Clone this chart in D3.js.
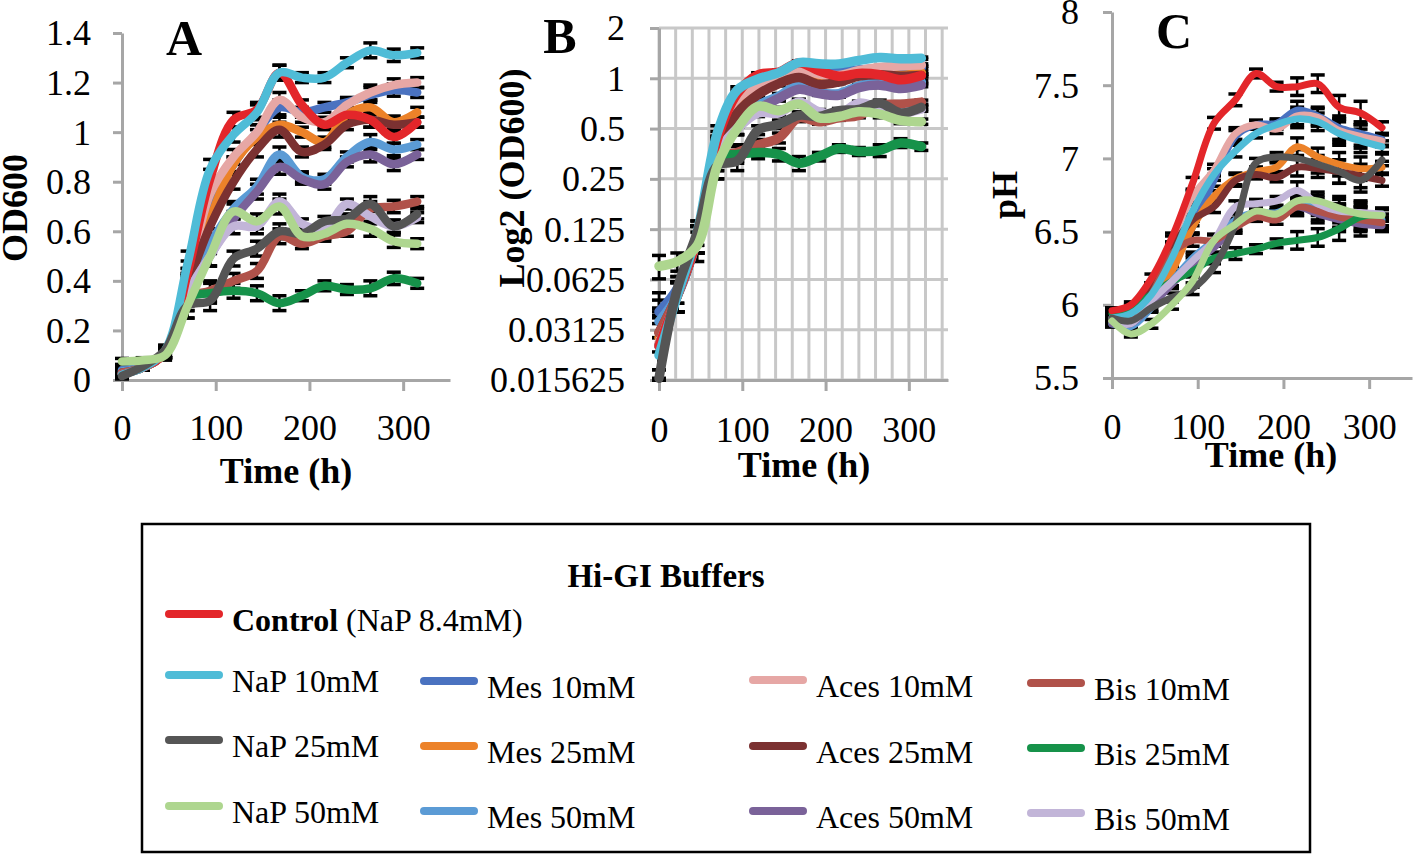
<!DOCTYPE html>
<html><head><meta charset="utf-8">
<script src="https://cdn.jsdelivr.net/npm/d3@7"></script>
<style>
body{margin:0;background:#fff;}
svg{display:block;font-family:"Liberation Serif","Times New Roman",serif;}
</style>
</head><body>
<svg id="chart" width="1418" height="862"></svg>
<script>
// ---------------- DATA ----------------
const times = [0, 22, 46, 70, 94, 119, 144, 168, 192, 216, 240, 265, 290, 315];

const seriesNames = ["Control","NaP 10mM","NaP 25mM","NaP 50mM","Mes 10mM","Mes 25mM","Mes 50mM",
                     "Aces 10mM","Aces 25mM","Aces 50mM","Bis 10mM","Bis 25mM","Bis 50mM"];
const seriesColors = ["#e3262a","#4fbcd7","#555555","#aed68f","#4a72c0","#ec8229","#5b9bd5",
                      "#e6a7a5","#7b3131","#7a6299","#b0524a","#16924a","#c2b5d8"];

// OD600 (panels A and B)
const odControl = [0.025, 0.05, 0.11, 0.43, 0.81, 1.05, 1.09, 1.24, 1.11, 1.03, 1.07, 1.05, 0.98, 1.04];
const odNaP10   = [0.022, 0.05, 0.12, 0.47, 0.85, 0.99, 1.08, 1.24, 1.22, 1.22, 1.28, 1.33, 1.31, 1.32];
const odNaP25   = [0.016, 0.055, 0.12, 0.30, 0.32, 0.49, 0.53, 0.60, 0.59, 0.64, 0.65, 0.71, 0.62, 0.67];
const odNaP50   = [0.075, 0.08, 0.10, 0.30, 0.50, 0.68, 0.64, 0.70, 0.58, 0.59, 0.63, 0.61, 0.56, 0.55];
const odMes10   = [0.040, 0.055, 0.11, 0.40, 0.70, 0.87, 1.00, 1.10, 1.08, 1.10, 1.12, 1.15, 1.17, 1.16];
const odMes25   = [0.028, 0.05, 0.11, 0.38, 0.65, 0.87, 0.98, 1.03, 1.00, 0.96, 1.07, 1.10, 1.04, 1.08];
const odMes50   = [0.035, 0.05, 0.11, 0.37, 0.55, 0.69, 0.78, 0.91, 0.82, 0.81, 0.90, 0.96, 0.93, 0.95];
const odAces10  = [0.026, 0.05, 0.11, 0.40, 0.75, 0.90, 1.00, 1.13, 1.06, 1.04, 1.11, 1.16, 1.19, 1.20];
const odAces25  = [0.030, 0.05, 0.11, 0.38, 0.62, 0.80, 0.93, 1.01, 0.92, 0.95, 1.03, 1.05, 1.03, 1.04];
const odAces50  = [0.025, 0.05, 0.11, 0.35, 0.50, 0.65, 0.76, 0.86, 0.81, 0.79, 0.88, 0.91, 0.87, 0.91];
const odBis10   = [0.030, 0.05, 0.11, 0.33, 0.36, 0.40, 0.44, 0.58, 0.55, 0.58, 0.60, 0.69, 0.70, 0.72];
const odBis25   = [0.025, 0.05, 0.11, 0.33, 0.35, 0.36, 0.35, 0.31, 0.34, 0.38, 0.365, 0.37, 0.41, 0.39];
const odBis50   = [0.025, 0.05, 0.11, 0.35, 0.50, 0.62, 0.62, 0.72, 0.63, 0.61, 0.71, 0.66, 0.62, 0.655];
const odError   = [0.012, 0.01, 0.02, 0.05, 0.04, 0.03, 0.03, 0.03, 0.02, 0.02, 0.02, 0.03, 0.025, 0.02];

// pH (panel C)
const phControl = [5.96, 6.00, 6.18, 6.46, 6.83, 7.24, 7.40, 7.58, 7.49, 7.49, 7.51, 7.35, 7.31, 7.21];
const phNaP10   = [5.91, 5.94, 6.07, 6.32, 6.64, 6.89, 7.05, 7.17, 7.23, 7.27, 7.25, 7.17, 7.12, 7.08];
const phNaP25   = [5.91, 5.89, 5.98, 6.05, 6.11, 6.26, 6.55, 6.97, 7.01, 7.00, 6.96, 6.91, 6.85, 6.99];
const phNaP50   = [5.89, 5.80, 5.87, 6.00, 6.16, 6.44, 6.55, 6.64, 6.62, 6.71, 6.71, 6.66, 6.62, 6.61];
const phMes10   = [5.87, 5.91, 6.05, 6.26, 6.53, 6.85, 7.15, 7.23, 7.24, 7.33, 7.29, 7.21, 7.17, 7.13];
const phMes25   = [5.89, 5.91, 6.03, 6.23, 6.53, 6.74, 6.86, 6.91, 6.94, 7.08, 7.01, 6.96, 6.93, 6.94];
const phMes50   = [5.87, 5.85, 5.98, 6.16, 6.32, 6.44, 6.58, 6.63, 6.63, 6.69, 6.67, 6.61, 6.59, 6.58];
const phAces10  = [5.89, 5.94, 6.12, 6.44, 6.74, 6.92, 7.17, 7.23, 7.20, 7.29, 7.28, 7.19, 7.15, 7.12];
const phAces25  = [5.91, 5.94, 6.12, 6.39, 6.58, 6.67, 6.85, 6.89, 6.87, 6.94, 6.93, 6.91, 6.88, 6.85];
const phAces50  = [5.87, 5.87, 6.00, 6.14, 6.28, 6.39, 6.53, 6.62, 6.62, 6.67, 6.62, 6.58, 6.55, 6.54];
const phBis10   = [5.91, 5.91, 6.07, 6.35, 6.44, 6.44, 6.53, 6.60, 6.58, 6.67, 6.64, 6.60, 6.58, 6.56];
const phBis25   = [5.94, 5.98, 6.07, 6.16, 6.23, 6.32, 6.35, 6.38, 6.42, 6.44, 6.46, 6.52, 6.60, 6.62];
const phBis50   = [5.89, 5.87, 6.03, 6.16, 6.30, 6.44, 6.67, 6.69, 6.71, 6.78, 6.69, 6.64, 6.63, 6.62];
const phError   = [0.02, 0.02, 0.03, 0.03, 0.04, 0.04, 0.04, 0.03, 0.03, 0.06, 0.06, 0.08, 0.08, 0.04];

// Tick values / labels
const xTicks = [0, 100, 200, 300];
const yTicksA = [0, 0.2, 0.4, 0.6, 0.8, 1, 1.2, 1.4];
const yLabelsA = ["0", "0.2", "0.4", "0.6", "0.8", "1", "1.2", "1.4"];
const yTicksB = [0.015625, 0.03125, 0.0625, 0.125, 0.25, 0.5, 1, 2];
const yLabelsB = ["0.015625", "0.03125", "0.0625", "0.125", "0.25", "0.5", "1", "2"];
const yTicksC = [5.5, 6, 6.5, 7, 7.5, 8];
const yLabelsC = ["5.5", "6", "6.5", "7", "7.5", "8"];
const xMinorB = [0,20,40,60,80,100,120,140,160,180,200,220,240,260,280,300,320,340];

const odSeries = [odControl, odNaP10, odNaP25, odNaP50, odMes10, odMes25, odMes50,
                  odAces10, odAces25, odAces50, odBis10, odBis25, odBis50];
const phSeries = [phControl, phNaP10, phNaP25, phNaP50, phMes10, phMes25, phMes50,
                  phAces10, phAces25, phAces50, phBis10, phBis25, phBis50];
// drawing order (bottom -> top), by series index
const drawOrder = [4, 5, 6, 7, 8, 9, 10, 11, 12, 0, 1, 2, 3];

// ---------------- DRAW ----------------
const svg = d3.select("#chart");
const AXIS = "#a6a6a6";
const GRID = "#c8c8c8";

function styleAxis(g, fontSize) {
  g.select(".domain").attr("stroke", AXIS).attr("stroke-width", 3);
  g.selectAll(".tick line").attr("stroke", AXIS).attr("stroke-width", 3);
  g.selectAll(".tick text").attr("fill", "#000").attr("font-size", fontSize)
    .attr("font-family", '"Liberation Serif","Times New Roman",serif');
}

function drawPanel(cfg) {
  const g = svg.append("g");
  const x = cfg.x, y = cfg.y;
  const [x0, x1] = x.range();
  const [yb, yt] = y.range();

  if (cfg.grid) {
    g.append("g").selectAll("line.h").data(cfg.yTicks).join("line")
      .attr("x1", x0).attr("x2", x1).attr("y1", d => y(d)).attr("y2", d => y(d))
      .attr("stroke", GRID).attr("stroke-width", 3);
    g.append("g").selectAll("line.v").data(cfg.grid).join("line")
      .attr("x1", d => x(d)).attr("x2", d => x(d)).attr("y1", yt).attr("y2", yb)
      .attr("stroke", GRID).attr("stroke-width", 3);
  }

  // y axis
  const ya = g.append("g").attr("transform", `translate(${x0},0)`)
    .call(d3.axisLeft(y).tickValues(cfg.yTicks).tickFormat((d, i) => cfg.yLabels[i])
      .tickSize(9).tickPadding(cfg.yPad).tickSizeOuter(0));
  styleAxis(ya, 36);
  ya.selectAll(".tick text").attr("dy", "0.33em");

  // x axis
  const xa = g.append("g").attr("transform", `translate(0,${yb})`)
    .call(d3.axisBottom(x).tickValues(xTicks).tickFormat(d3.format("d"))
      .tickSize(11).tickSizeOuter(0));
  styleAxis(xa, 36);
  xa.selectAll(".tick text").attr("y", cfg.xLabelY - yb).attr("dy", "0.35em");

  // clip
  const cid = "clip" + cfg.id;
  svg.append("clipPath").attr("id", cid).append("rect")
    .attr("x", x0 - 8).attr("y", yt - 8).attr("width", x1 - x0 + 16).attr("height", yb - yt + 16);

  const plot = g.append("g").attr("clip-path", `url(#${cid})`);

  // error bars (under lines)
  const eb = plot.append("g");
  drawOrder.forEach(si => {
    const vals = cfg.series[si];
    times.forEach((t, i) => {
      const v = vals[i], e = cfg.err[i];
      const lo = Math.max(v - e, y.domain()[0]);
      const hi = v + e;
      const cx = x(t);
      eb.append("line").attr("x1", cx).attr("x2", cx).attr("y1", y(lo)).attr("y2", y(hi))
        .attr("stroke", "#000").attr("stroke-width", 2.5);
      [lo, hi].forEach(b => {
        eb.append("line").attr("x1", cx - 7).attr("x2", cx + 7).attr("y1", y(b)).attr("y2", y(b))
          .attr("stroke", "#000").attr("stroke-width", 3.5);
      });
    });
  });

  const line = d3.line().x((d, i) => x(times[i])).y(d => y(d))
    .curve(d3.curveCatmullRom.alpha(0.5));
  drawOrder.forEach(si => {
    plot.append("path").datum(cfg.series[si]).attr("d", line)
      .attr("fill", "none").attr("stroke", seriesColors[si])
      .attr("stroke-width", cfg.lw).attr("stroke-linecap", "round").attr("stroke-linejoin", "round");
  });

  // titles
  svg.append("text").attr("x", cfg.xTitle[0]).attr("y", cfg.xTitle[1])
    .attr("text-anchor", "middle").attr("font-weight", "bold").attr("font-size", 36)
    .text("Time (h)");
  svg.append("text")
    .attr("transform", `translate(${cfg.yTitle[0]},${cfg.yTitle[1]}) rotate(-90)`)
    .attr("text-anchor", "middle").attr("font-weight", "bold").attr("font-size", 36)
    .text(cfg.yTitleText);
  svg.append("text").attr("x", cfg.letter[0]).attr("y", cfg.letter[1])
    .attr("text-anchor", "middle").attr("font-weight", "bold").attr("font-size", 50)
    .text(cfg.id);
}

drawPanel({
  id: "A",
  x: d3.scaleLinear().domain([0, 350]).range([122, 450]),
  y: d3.scaleLinear().domain([0, 1.4]).range([380, 33]),
  yTicks: yTicksA, yLabels: yLabelsA, yPad: 22, xLabelY: 427,
  series: odSeries, err: odError, lw: 8.5,
  xTitle: [286, 483], yTitle: [27, 208], yTitleText: "OD600", letter: [184, 55]
});

drawPanel({
  id: "B",
  x: d3.scaleLinear().domain([0, 347]).range([659, 948]),
  y: d3.scaleLog().base(2).domain([0.015625, 2]).range([380, 28]),
  yTicks: yTicksB, yLabels: yLabelsB, yPad: 25, xLabelY: 429, grid: xMinorB,
  series: odSeries, err: odError, lw: 9.5,
  xTitle: [804, 477], yTitle: [524, 178], yTitleText: "Log2 (OD600)", letter: [560, 53]
});

drawPanel({
  id: "C",
  x: d3.scaleLinear().domain([0, 350]).range([1112, 1412]),
  y: d3.scaleLinear().domain([5.5, 8]).range([378, 12]),
  yTicks: yTicksC, yLabels: yLabelsC, yPad: 24, xLabelY: 426,
  series: phSeries, err: phError, lw: 7,
  xTitle: [1271, 467], yTitle: [1017, 195], yTitleText: "pH", letter: [1174, 48]
});

// ---------------- LEGEND ----------------
const lg = svg.append("g");
lg.append("rect").attr("x", 142).attr("y", 524).attr("width", 1168).attr("height", 328)
  .attr("fill", "none").attr("stroke", "#000").attr("stroke-width", 2.5);
lg.append("text").attr("x", 666).attr("y", 587).attr("text-anchor", "middle")
  .attr("font-weight", "bold").attr("font-size", 33).text("Hi-GI Buffers");

const colX = [165, 420, 749, 1027];
const rowY = [[675, 740, 806], [681, 746, 811], [680, 746, 811], [683, 748, 813]];
seriesNames.forEach((name, i) => {
  let lx, ly;
  if (i === 0) { lx = 165; ly = 614; }
  else { const c = Math.floor((i - 1) / 3), r = (i - 1) % 3; lx = colX[c]; ly = rowY[c][r]; }
  lg.append("line").attr("x1", lx + 4).attr("x2", lx + 54).attr("y1", ly).attr("y2", ly)
    .attr("stroke", seriesColors[i]).attr("stroke-width", 8).attr("stroke-linecap", "round");
  const t = lg.append("text").attr("x", lx + 67).attr("y", ly + 17).attr("font-size", 32);
  if (i === 0) {
    t.append("tspan").attr("font-weight", "bold").text("Control");
    t.append("tspan").text(" (NaP 8.4mM)");
  } else {
    t.text(name);
  }
});
</script>
</body></html>
